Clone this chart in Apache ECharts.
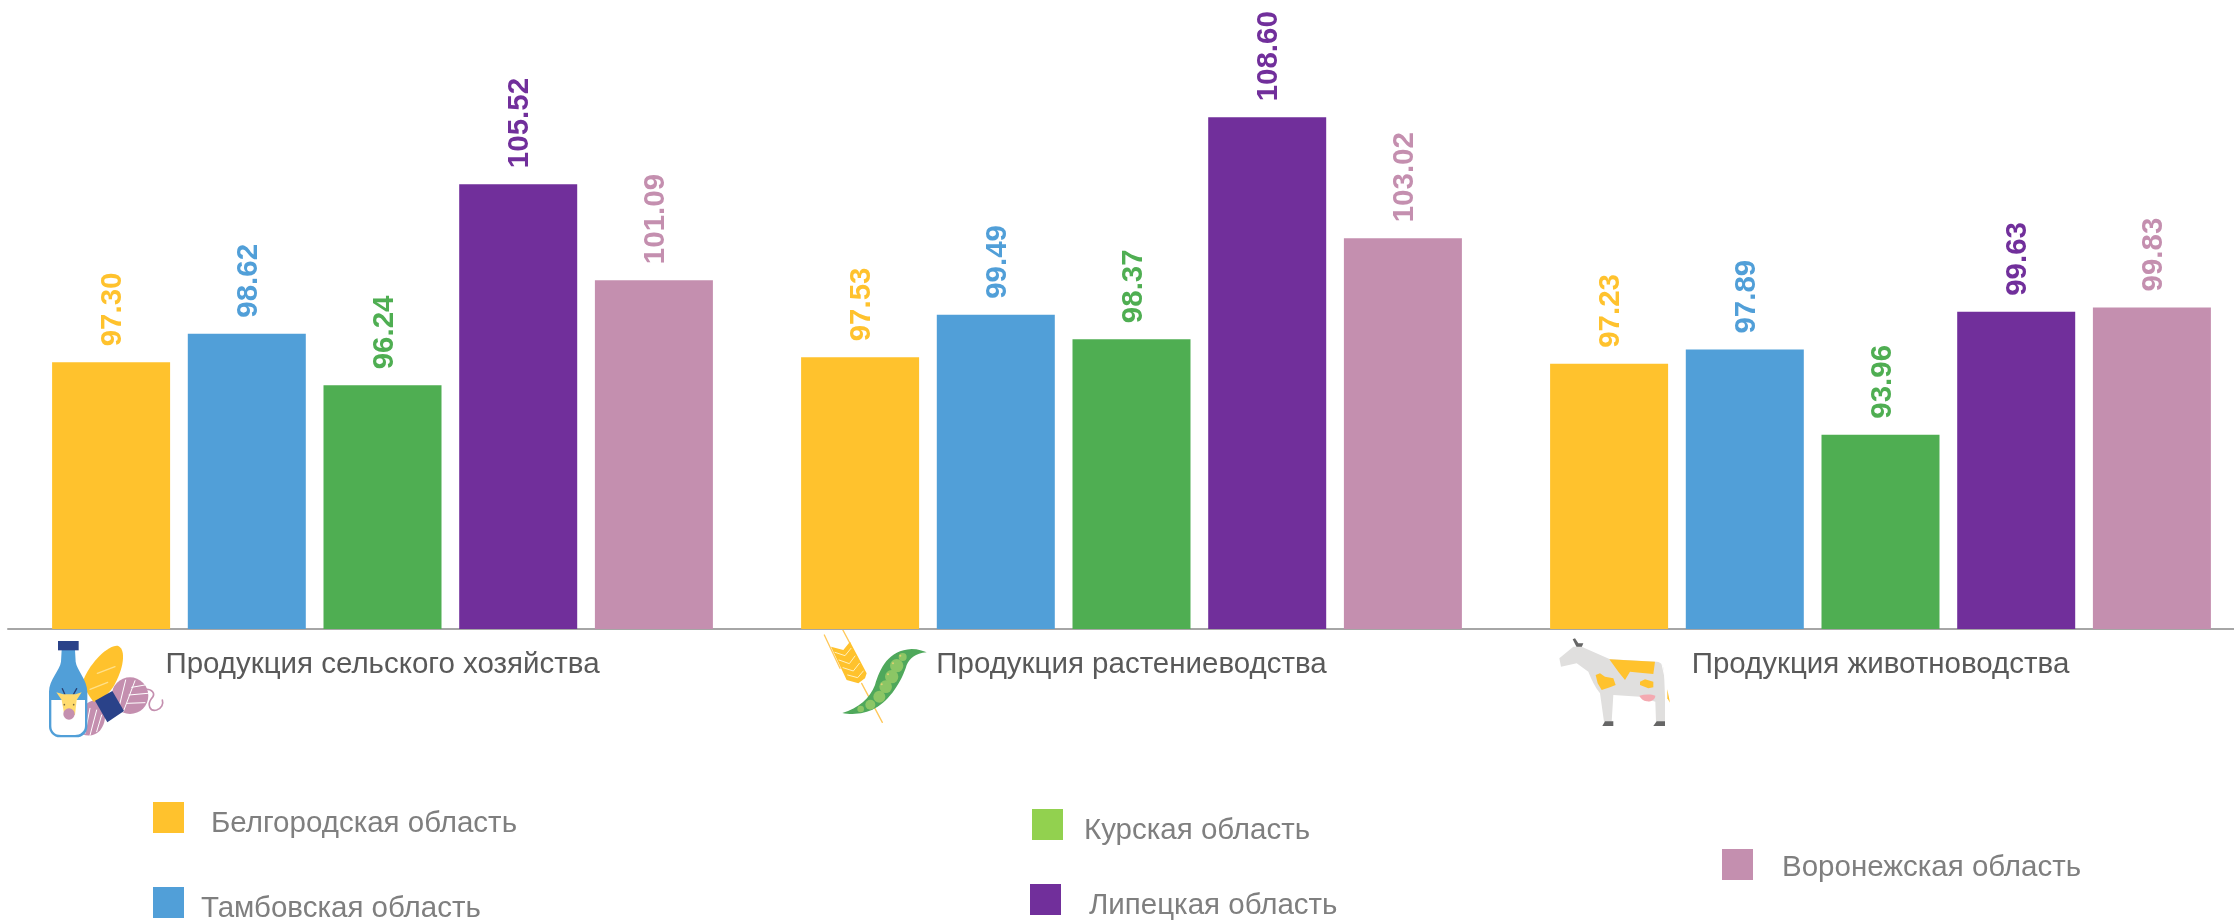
<!DOCTYPE html>
<html><head><meta charset="utf-8">
<style>html,body{margin:0;padding:0;background:#fff;overflow:hidden}#c{width:2234px;height:921px}</style>
<script src="https://cdn.jsdelivr.net/npm/echarts@6/dist/echarts.min.js"></script>
</head><body><div id="c"></div>
<script>
const categories = ['Продукция сельского хозяйства','Продукция растениеводства','Продукция животноводства'];
const belgorod = [97.30,97.53,97.23];
const tambov = [98.62,99.49,97.89];
const kursk = [96.24,98.37,93.96];
const lipetsk = [105.52,108.60,99.63];
const voronezh = [101.09,103.02,99.83];
const names = ['Белгородская область','Тамбовская область','Курская область','Липецкая область','Воронежская область'];
const colors = ['#FFC22D','#519FD8','#4FAE52','#712F9B','#C48FAF'];
const legendColors = ['#FFC22D','#519FD8','#92D14F','#712F9B','#C48FAF'];
const allValues = [belgorod,tambov,kursk,lipetsk,voronezh];
const FONT = '"Liberation Sans", Arial, sans-serif';
const legendPos = [[153,802,22,6],[153,887,12,6],[1032,809,16,6],[1030,884,23,6],[1722,849,24,3]];

let shapeCount=0;
const reg=d=>{const name='iconShape'+(shapeCount++);echarts.graphic.registerShape(name,echarts.graphic.extendPath(d,{}));return name;};
const p=(d,fill)=>({type:reg(d),style:{fill:fill}});
const ln=(d,stroke,w)=>({type:reg(d),style:{fill:'none',stroke:stroke,lineWidth:w,lineCap:'round',lineJoin:'round'}});
const c=(x,y,r,fill)=>({type:'circle',shape:{cx:x,cy:y,r:r},style:{fill:fill}});
const PINK='#C48FAF',NAVY='#2A4289',YEL='#FFC22D',BLUE='#519FD8';
const icon1=[
  c(285,197,55,PINK),
  p('M130 265 C140 225 165 205 190 215 C220 235 215 290 185 310 C165 322 140 318 130 300 Z',PINK),
  ln('M272 150 L250 240','#fff',3), ln('M300 152 L265 245','#fff',3), ln('M290 172 L330 165','#fff',3),
  ln('M282 195 L338 190','#fff',3), ln('M276 220 L330 218','#fff',3),
  ln('M165 235 L150 310','#fff',3), ln('M185 240 L165 316','#fff',3), ln('M200 255 L185 305','#fff',3),
  p('M145 150 C170 90 225 42 250 48 C275 60 265 120 235 170 C215 200 190 215 175 215 C155 190 145 165 145 150 Z',YEL),
  ln('M187 130 L240 110','#FFE08A',4), ln('M165 178 L218 157','#FFE08A',4),
  p('M180 212 L232 183 L267 243 L217 277 Z',NAVY),
  ln('M330 178 C350 176 364 190 350 205 C335 225 345 245 365 240 C380 235 386 222 382 210',PINK,5),
  p('M80 60 L120 60 L122 95 C125 120 157 150 157 185 L157 290 C157 310 140 322 125 322 L75 322 C55 322 42 305 42 290 L42 185 C42 150 75 120 78 95 Z',BLUE),
  p('M49 210 L150 210 L150 288 C150 305 135 315 120 315 L78 315 C60 315 49 305 49 288 Z','#fff'),
  {type:'rect',shape:{x:69,y:33,width:62,height:28},style:{fill:NAVY}},
  ln('M82 176 L90 194','#2A3F6E',4), ln('M125 176 L115 194','#2A3F6E',4),
  p('M64 187 L85 193 L122 193 L140 187 L125 210 L120 255 L88 255 L80 210 Z','#FFDB6E'),
  c(102,252,17,PINK), c(88,224,2.5,'#7a6a40'), c(116,224,2.5,'#7a6a40')
];
const icon2=[
  ln('M28 30 L75 130','#FFC85A',4), ln('M82 12 L105 55','#FFC85A',4), ln('M140 175 L202 292','#FFC85A',4),
  p('M48 65 L85 75 L105 50 L155 145 L150 160 L130 175 L95 165 Z',YEL),
  ln('M60 82 L90 92 L108 70','#FFF1C0',3), ln('M72 105 L103 116 L120 93','#FFF1C0',3),
  ln('M84 128 L115 138 L133 115','#FFF1C0',3), ln('M98 150 L128 158 L145 138','#FFF1C0',3),
  p('M82 264 C130 250 165 220 180 180 C195 130 220 75 290 72 C310 72 325 78 335 82 C300 85 285 100 275 120 C260 170 225 225 180 250 C150 268 110 270 82 264 Z','#4FA85B'),
  c(263,96,12,'#8CC665'),c(245,122,20,'#8CC665'),c(230,155,20,'#8CC665'),c(212,185,19,'#8CC665'),
  c(193,215,18,'#8CC665'),c(166,239,15,'#8CC665'),c(137,252,10,'#8CC665'),
  c(256,92,3,'#E0D070'),c(234,115,3,'#E0D070'),c(219,148,3,'#E0D070'),c(200,178,3,'#E0D070')
];
const icon3=[
  p('M68 28 L75 25 L85 40 L100 40 L95 52 L80 52 Z','#666'),
  p('M28 85 L70 50 L95 50 L180 88 L320 95 C335 97 340 105 342 125 L345 200 L345 275 L318 275 L316 215 L270 200 L190 195 L185 275 L162 275 L150 190 C135 170 125 150 115 125 L80 100 L33 110 Z','#E0DFDE'),
  p('M157 288 L190 288 L190 274 L165 274 Z','#666'), p('M310 288 L345 288 L345 274 L320 274 Z','#666'),
  p('M178 88 L315 95 L310 132 L270 128 L240 125 L225 150 L205 125 Z',YEL),
  p('M137 135 L150 130 L165 140 L190 145 L197 165 L180 172 L155 180 L143 160 Z',YEL),
  p('M270 155 L285 148 L310 155 L310 172 L295 175 L270 165 Z',YEL),
  p('M268 197 C285 192 305 192 316 197 C316 210 300 216 290 214 C280 212 272 206 268 197 Z','#F4A9B0'),
  p('M352 178 L360 218 L352 205 Z',YEL),
  ln('M336 102 L352 175','#fff',3)
];
const ic=(x,y,ch)=>({type:'group',x:x,y:y,scaleX:1/3,scaleY:1/3,silent:true,children:ch});

const chart = echarts.init(document.getElementById('c'),null,{renderer:'canvas'});
chart.setOption({
  animation:false,
  backgroundColor:'#fff',
  grid:{left:8,top:87,width:2247,height:542,containLabel:false,outerBoundsMode:'none'},
  xAxis:{type:'category',data:categories,
    axisLine:{lineStyle:{color:'#A6A6A6',width:2}},axisTick:{show:false},
    axisLabel:{interval:0,color:'#595959',fontFamily:FONT,fontSize:29.5,margin:21}},
  yAxis:{type:'value',min:85,max:110,show:false,splitLine:{show:false}},
  legend:names.map((n,i)=>({
    left:legendPos[i][0],top:legendPos[i][1],itemWidth:31,itemHeight:31,padding:0,
    icon:'rect',selectedMode:false,
    data:[{name:n,itemStyle:{color:legendColors[i]}}],
    formatter:'{a|{name}}',
    textStyle:{color:'#7F7F7F',fontFamily:FONT,fontSize:29.5,
      rich:{a:{color:'#7F7F7F',fontFamily:FONT,fontSize:29.5,padding:[legendPos[i][3]*2,0,0,legendPos[i][2]]}}}
  })),
  series:names.map((n,i)=>({
    name:n,type:'bar',data:allValues[i],barWidth:118,barGap:'15%',
    itemStyle:{color:colors[i]},
    label:{show:true,position:'top',rotate:90,distance:16,align:'left',verticalAlign:'middle',offset:[0,2],
      formatter:p=>p.value.toFixed(2),color:colors[i],fontFamily:FONT,fontWeight:'bold',fontSize:29.5}
  })),
  graphic:{elements:[ic(35,630,icon1),ic(815,625,icon2),ic(1550,630,icon3)]}
});
</script></body></html>
